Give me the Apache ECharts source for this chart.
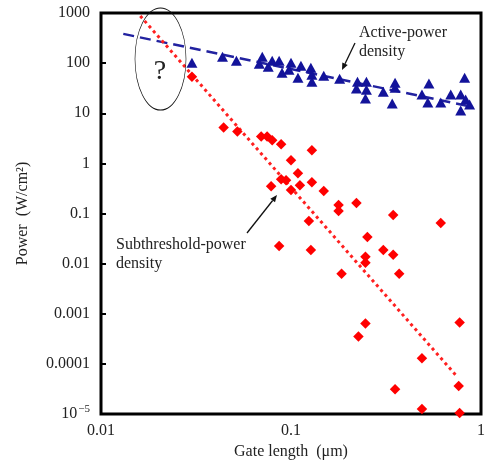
<!DOCTYPE html>
<html>
<head>
<meta charset="utf-8">
<script src="https://cdn.jsdelivr.net/npm/echarts@6/dist/echarts.min.js"></script>
<style>html,body{margin:0;padding:0;background:#fff}#c{width:488px;height:465px}</style>
</head>
<body>
<div id="c"></div>
<script>
// ---- data ----
// Active-power density (blue triangles): [gate length um, W/cm2]
const activeX = [0.0301,0.0436,0.0516,0.0681,0.0706,0.0759,0.0796,0.0866,0.0897,0.0976,0.100,0.1088,0.1128,0.1272,0.1288,0.1288,0.1487,0.1803,0.2238,0.2494,0.221,0.2494,0.2465,0.306,0.353,0.353,0.341,0.532,0.489,0.525,0.614,0.693,0.782,0.820,0.830,0.871,0.782];
const activeY = [101.7,133.8,111.5,97.2,133.8,84.7,111.5,111.5,64.4,73.9,101.7,51.2,88.7,81.0,58.8,42.7,56.2,48.9,42.7,42.7,31.0,29.6,19.6,27.0,40.8,32.4,15.6,39.0,23.6,16.3,16.3,23.6,23.6,51.2,18.75,14.9,11.3];
// Subthreshold-power density (red diamonds)
const subX = [0.0301,0.0442,0.0522,0.0697,0.0749,0.0796,0.0887,0.1288,0.100,0.1088,0.0887,0.0942,0.0786,0.100,0.1114,0.1288,0.1487,0.1242,0.0866,0.1272,0.178,0.178,0.221,0.345,0.614,0.2524,0.306,0.2465,0.2465,0.345,0.1846,0.371,0.2465,0.772,0.2265,0.489,0.353,0.763,0.489,0.772];
const subY = [53.7,5.21,4.34,3.45,3.45,2.88,2.40,1.82,1.15,0.637,0.484,0.462,0.351,0.293,0.368,0.422,0.280,0.0710,0.0226,0.0188,0.1475,0.112,0.1616,0.0934,0.0648,0.0341,0.0188,0.01369,0.0104,0.0150,0.00629,0.00629,0.00064,0.00067,0.000353,0.000129,0.0000313,0.000036,0.0000126,0.0000105];
// Fitted trend lines (end points)
const activeFitX = [0.0131, 0.881];
const activeFitY = [383, 13.6];
const subFitX = [0.0161, 0.745];
const subFitY = [872, 0.0000568];
// Tick labels, by decade exponent
const xTickExp = [-2, -1, 0];
const xTickLabels = ['0.01', '0.1', '1'];
const yTickExp = [-5, -4, -3, -2, -1, 0, 1, 2, 3];
const yTickLabels = ['10{sup|−5}', '0.0001', '0.001', '0.01', '0.1', '1', '10', '100', '1000'];

const zip = (xs, ys) => xs.map((x, i) => [x, ys[i]]);
const serif = '"Liberation Serif","Times New Roman",serif';
const lbl = (exps, labels) => v => {
  const e = Math.round(Math.log10(v));
  const i = exps.indexOf(e);
  return i >= 0 ? labels[i] : '';
};

function arrow(x1, y1, x2, y2) {
  const a = Math.atan2(y2 - y1, x2 - x1), L = 7, W = 3;
  const bx = x2 - L * Math.cos(a), by = y2 - L * Math.sin(a);
  return [
    {type: 'line', shape: {x1: x1, y1: y1, x2: bx, y2: by}, style: {stroke: '#111', lineWidth: 1.3}},
    {type: 'polygon', shape: {points: [[x2, y2], [bx - W * Math.sin(a), by + W * Math.cos(a)], [bx + W * Math.sin(a), by - W * Math.cos(a)]]}, style: {fill: '#111'}}
  ];
}
function txt(x, y, s, size) {
  return {type: 'text', x: x, y: y, style: {text: s, font: size + 'px ' + serif, fill: '#222', align: 'left', verticalAlign: 'middle', textAlign: 'left', textVerticalAlign: 'middle'}};
}

const chart = echarts.init(document.getElementById('c'), null, {renderer: 'canvas'});
chart.setOption({
  animation: false,
  backgroundColor: '#fff',
  grid: {left: 101, right: 5, top: 13, bottom: 49, show: true, borderColor: '#000', borderWidth: 3, backgroundColor: 'transparent'},
  xAxis: {
    type: 'log', logBase: 10, min: 0.01, max: 1, splitNumber: 2,
    name: 'Gate length  (μm)', nameLocation: 'middle', nameGap: 30,
    nameTextStyle: {fontFamily: serif, fontSize: 16, color: '#222'},
    axisLine: {show: false}, axisTick: {show: false}, splitLine: {show: false}, minorTick: {show: false},
    axisLabel: {fontFamily: serif, fontSize: 16, color: '#222', margin: 9, formatter: lbl(xTickExp, xTickLabels)}
  },
  yAxis: {
    type: 'log', logBase: 10, min: 0.00001, max: 1000, splitNumber: 8,
    name: 'Power  (W/cm²)', nameLocation: 'middle', nameGap: 70, nameRotate: 90,
    nameTextStyle: {fontFamily: serif, fontSize: 16, color: '#222'},
    axisLine: {show: false}, splitLine: {show: false},
    axisTick: {show: true, inside: true, length: 5, lineStyle: {color: '#000', width: 2}},
    axisLabel: {fontFamily: serif, fontSize: 16, color: '#222', margin: 11, formatter: lbl(yTickExp, yTickLabels),
      rich: {sup: {fontFamily: serif, fontSize: 11, color: '#222', verticalAlign: 'top', padding: [0, 0, 9, 1]}}}
  },
  series: [
    {type: 'line', data: zip(activeFitX, activeFitY), symbol: 'none', z: 1,
      lineStyle: {color: '#2222a0', width: 2.5, type: [11, 6]}},
    {type: 'line', data: zip(subFitX, subFitY), symbol: 'none', z: 1,
      lineStyle: {color: '#ff2020', width: 3, type: [3, 3.5]}},
    {type: 'scatter', data: zip(activeX, activeY), symbol: 'triangle', symbolSize: [11, 10], z: 3,
      itemStyle: {color: '#13139a', opacity: 1}},
    {type: 'scatter', data: zip(subX, subY), symbol: 'diamond', symbolSize: 10.5, z: 3, clip: false,
      itemStyle: {color: '#ff0000', opacity: 1}}
  ],
  graphic: [
    {type: 'circle', x: 160.5, y: 59, scaleX: 0.5, shape: {cx: 0, cy: 0, r: 51},
      style: {fill: 'none', stroke: '#111', lineWidth: 1.2, strokeNoScale: true}, z: 10},
    {type: 'text', x: 160, y: 72, style: {text: '?', font: '28px ' + serif, fill: '#222', align: 'center', verticalAlign: 'middle', textAlign: 'center', textVerticalAlign: 'middle'}, z: 10},
    txt(359, 33, 'Active-power', 16),
    txt(359, 52, 'density', 16),
    txt(116, 245, 'Subthreshold-power', 16),
    txt(116, 264, 'density', 16),
    ...arrow(355, 43, 342, 70),
    ...arrow(247, 233, 277, 195)
  ]
});
</script>
</body>
</html>
